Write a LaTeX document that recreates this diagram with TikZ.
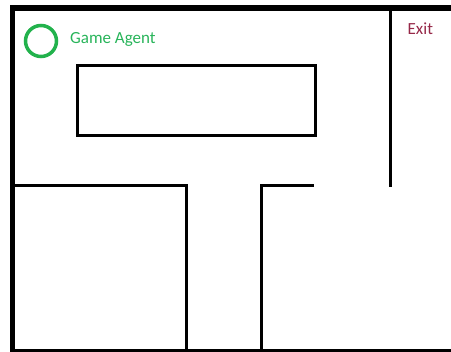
\documentclass[tikz,border=0pt]{standalone}
\usepackage{fontspec}
\setmainfont{Carlito}
\definecolor{agentgreen}{RGB}{34,178,76}
\definecolor{textgreen}{RGB}{40,180,90}
\definecolor{exitred}{RGB}{150,40,72}
\tikzset{
  outerwall/.style={line width=5pt, line cap=rect},
  wall/.style={line width=3pt, line cap=rect},
  lbl/.style={inner sep=0pt, anchor=west, font=\fontsize{17}{20}\selectfont}
}
\begin{document}
\begin{tikzpicture}[x=1pt, y=-1pt]
\useasboundingbox (0,0) rectangle (451,352);
% outer walls
\draw[line width=6pt] (10,8) -- (451,8);
\draw[outerwall] (12.5,8) -- (12.5,352);
\draw[line width=3pt] (12.5,350.5) -- (451,350.5);
% inner block
\draw[wall, line join=miter] (77.5,65.5) rectangle (315.5,135.5);
% right vertical wall
\draw[line width=3pt] (390.5,8) -- (390.5,187);
% lower left room
\draw[wall, line join=miter] (15,185.5) -- (186.5,185.5) -- (186.5,350);
% T-corridor right wall
\draw[wall, line join=miter] (261.5,350) -- (261.5,185.5) -- (312,185.5);
% agent
\draw[agentgreen, line width=3.5pt] (41,41) circle (15.5);
\node[lbl, text=textgreen] (agent) at (70,39) {Game Agent};
\node[lbl, text=exitred] (exit) at (407.5,28.5) {Exit};
\end{tikzpicture}
\end{document}
